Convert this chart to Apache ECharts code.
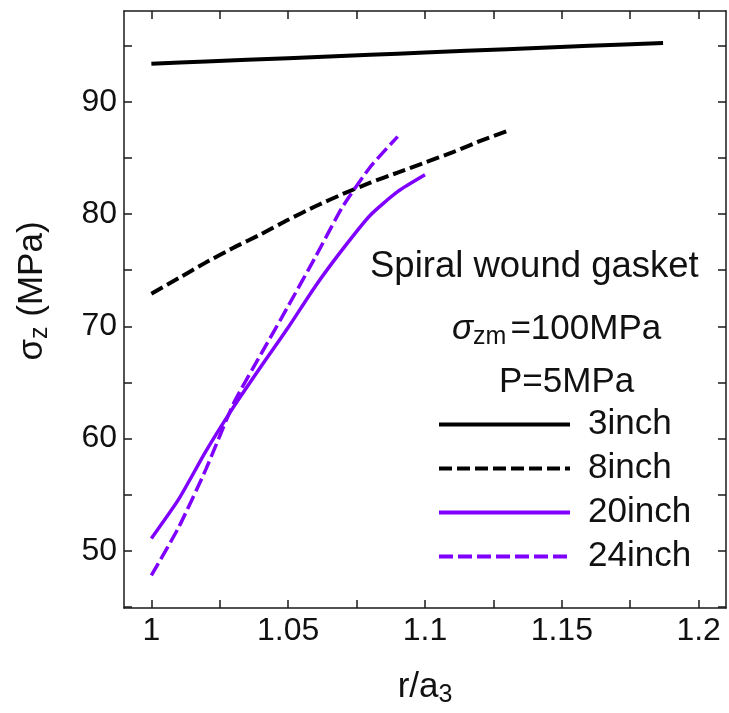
<!DOCTYPE html>
<html>
<head>
<meta charset="utf-8">
<script src="https://cdn.jsdelivr.net/npm/echarts@6/dist/echarts.min.js"></script>
<style>
html,body{margin:0;padding:0;background:#fff;}
#chart{width:729px;height:713px;}
</style>
</head>
<body>
<div id="chart"></div>
<script>
// Data
const seriesNames = ['3inch', '8inch', '20inch', '24inch'];
const r3 = [1.0, 1.02, 1.05, 1.08, 1.1, 1.13, 1.16, 1.187];
const s3 = [93.4, 93.6, 93.9, 94.2, 94.4, 94.7, 95.0, 95.25];
const r8 = [1.0, 1.01, 1.02, 1.03, 1.04, 1.05, 1.06, 1.07, 1.08, 1.09, 1.1, 1.11, 1.12, 1.13];
const s8 = [72.9, 74.3, 75.7, 77.0, 78.2, 79.5, 80.7, 81.8, 82.8, 83.7, 84.6, 85.5, 86.5, 87.4];
const r20 = [1.0, 1.01, 1.02, 1.03, 1.04, 1.05, 1.06, 1.07, 1.08, 1.09, 1.1];
const s20 = [51.1, 54.6, 58.9, 62.8, 66.4, 69.9, 73.6, 76.9, 79.9, 82.0, 83.5];
const r24 = [1.0, 1.01, 1.02, 1.03, 1.04, 1.05, 1.06, 1.07, 1.08, 1.09];
const s24 = [47.8, 52.1, 57.3, 63.1, 67.5, 71.8, 76.2, 80.7, 84.2, 86.9];
const xTickValues = [1.0, 1.025, 1.05, 1.075, 1.1, 1.125, 1.15, 1.175, 1.2];
const xLabelValues = [1, 1.05, 1.1, 1.15, 1.2];
const yTickValues = [45, 50, 55, 60, 65, 70, 75, 80, 85, 90, 95];
const yLabelValues = [50, 60, 70, 80, 90];

const FONT = "'Liberation Sans', Arial, sans-serif";
const BLACK = '#000000';
const PURPLE = '#7f00ff';
const TXT = '#111111';

function pairs(xs, ys) { return xs.map((x, i) => [x, ys[i]]); }

const chart = echarts.init(document.getElementById('chart'), null, {renderer: 'canvas'});

const axisLine = {show: true, onZero: false, lineStyle: {color: '#1a1a1a', width: 1.5}};
const tickStyle = {lineStyle: {color: '#1a1a1a', width: 1.5}};

const option = {
  backgroundColor: '#fff',
  animation: false,
  grid: {left: 124, top: 11, right: 3, bottom: 97, containLabel: false},
  xAxis: [
    {
      type: 'value', min: 0.99, max: 1.21, position: 'bottom',
      axisLine: axisLine,
      axisTick: Object.assign({show: true, inside: true, length: 8, customValues: xTickValues}, tickStyle),
      axisLabel: {show: true, customValues: xLabelValues, margin: 7, fontSize: 32, fontFamily: FONT, color: TXT},
      splitLine: {show: false},
      name: '{n|r/a}{s|3}', nameLocation: 'middle', nameGap: 59,
      nameTextStyle: {rich: {
        n: {fontSize: 35, fontFamily: FONT, color: TXT},
        s: {fontSize: 25, fontFamily: FONT, color: TXT, padding: [16, 0, 0, 0]}
      }}
    },
    {
      type: 'value', min: 0.99, max: 1.21, position: 'top',
      axisLine: axisLine,
      axisTick: Object.assign({show: true, inside: true, length: 8, customValues: xTickValues}, tickStyle),
      axisLabel: {show: false},
      splitLine: {show: false}
    }
  ],
  yAxis: [
    {
      type: 'value', min: 44.9, max: 98.1, position: 'left',
      axisLine: axisLine,
      axisTick: Object.assign({show: true, inside: true, length: 8, customValues: yTickValues}, tickStyle),
      axisLabel: {show: true, customValues: yLabelValues, margin: 7, fontSize: 32, fontFamily: FONT, color: TXT},
      splitLine: {show: false}
    },
    {
      type: 'value', min: 44.9, max: 98.1, position: 'right',
      axisLine: axisLine,
      axisTick: Object.assign({show: true, inside: true, length: 8, customValues: yTickValues}, tickStyle),
      axisLabel: {show: false},
      splitLine: {show: false}
    }
  ],
  legend: {
    orient: 'vertical', left: 437, top: 407, padding: 0,
    itemWidth: 131, itemHeight: 20, itemGap: 9,
    data: seriesNames,
    itemStyle: {opacity: 0},
    lineStyle: {width: 4},
    textStyle: {fontSize: 35, fontFamily: FONT, color: TXT, padding: [0, 0, 0, 13]}
  },
  graphic: [
    {
      type: 'text', left: 370, top: 248,
      style: {text: 'Spiral wound gasket', font: '36.5px ' + FONT, fill: TXT}
    },
    {
      type: 'text', left: 452, top: 312,
      style: {
        text: '{g|σ}{s|zm}{n|=100MPa}',
        rich: {
          g: {fontSize: 35, fontFamily: FONT, fontStyle: 'italic', fill: TXT},
          s: {fontSize: 25, fontFamily: FONT, fill: TXT, padding: [16, 4, 0, 0]},
          n: {fontSize: 35, fontFamily: FONT, fill: TXT}
        }
      }
    },
    {
      type: 'text', left: 499, top: 365,
      style: {text: 'P=5MPa', font: '35px ' + FONT, fill: TXT}
    },
    {
      type: 'text', x: 32, y: 291, rotation: Math.PI / 2,
      style: {
        text: '{g|σ}{s|z}{n| (MPa)}',
        align: 'center', verticalAlign: 'middle',
        rich: {
          g: {fontSize: 35, fontFamily: FONT, fill: TXT},
          s: {fontSize: 25, fontFamily: FONT, fill: TXT, padding: [16, 0, 0, 0]},
          n: {fontSize: 35, fontFamily: FONT, fill: TXT}
        }
      }
    }
  ],
  series: [
    {name: seriesNames[0], type: 'line', data: pairs(r3, s3), symbol: 'none', smooth: 0.2,
     lineStyle: {color: BLACK, width: 4}, itemStyle: {color: BLACK}},
    {name: seriesNames[1], type: 'line', data: pairs(r8, s8), symbol: 'none', smooth: 0.2,
     lineStyle: {color: BLACK, width: 4, type: [13, 5]}, itemStyle: {color: BLACK}},
    {name: seriesNames[2], type: 'line', data: pairs(r20, s20), symbol: 'none', smooth: 0.2,
     lineStyle: {color: PURPLE, width: 3.5}, itemStyle: {color: PURPLE}},
    {name: seriesNames[3], type: 'line', data: pairs(r24, s24), symbol: 'none', smooth: 0.2,
     lineStyle: {color: PURPLE, width: 3.5, type: [14, 5]}, itemStyle: {color: PURPLE}}
  ]
};
chart.setOption(option);
</script>
</body>
</html>
